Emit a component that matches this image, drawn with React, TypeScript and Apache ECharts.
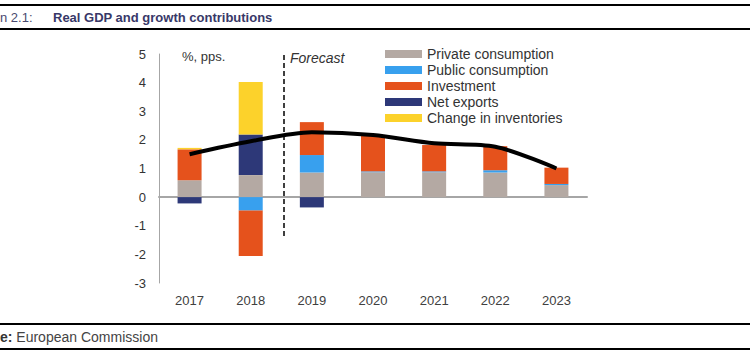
import React, { useEffect, useRef } from "react";
import * as echarts from "echarts";

const years = ["2017", "2018", "2019", "2020", "2021", "2022", "2023"];
const privateConsumption = [0.59, 0.77, 0.86, 0.87, 0.87, 0.86, 0.42];
const publicConsumption = [0.0, -0.47, 0.61, 0.03, 0.03, 0.08, 0.04];
const investment = [1.08, -1.59, 1.15, 1.24, 0.92, 0.84, 0.57];
const netExports = [-0.22, 1.42, -0.36, 0, 0, 0, 0];
const inventories = [0.05, 1.83, 0, 0, 0, 0, 0];
const realGdp = [1.5, 1.95, 2.27, 2.17, 1.88, 1.76, 1.0];
const yTicks = { min: -3, max: 5, interval: 1 };

const colors = {
  private: "#b4a9a3",
  public: "#38a0ee",
  investment: "#e5521c",
  net: "#2d3878",
  inv: "#fcd22b",
};

export default function App() {
  const ref = useRef<HTMLDivElement>(null);
  useEffect(() => {
    if (!ref.current) return;
    const chart = echarts.init(ref.current, undefined, { renderer: "svg" });
    const barSeries = (name: string, data: number[], color: string) => ({
      name,
      type: "bar",
      stack: "total",
      data,
      barWidth: 24,
      itemStyle: { color },
      emphasis: { disabled: true },
    });
    chart.setOption({
      animation: false,
      backgroundColor: "#ffffff",
      textStyle: { fontFamily: "Liberation Sans" },
      grid: { left: 159, right: 163, top: 54, bottom: 71 },
      legend: {
        orient: "vertical",
        left: 385,
        top: 47,
        padding: 0,
        itemWidth: 37,
        itemHeight: 8,
        itemGap: 2,
        icon: "rect",
        textStyle: { fontSize: 14, color: "#333", lineHeight: 14, fontFamily: "Liberation Sans" },
        data: [
          "Private consumption",
          "Public consumption",
          "Investment",
          "Net exports",
          "Change in inventories",
        ],
      },
      xAxis: {
        type: "category",
        data: years,
        axisLine: { onZero: true, lineStyle: { color: "#a6a6a6", width: 2 } },
        axisTick: { show: false },
        axisLabel: {
          color: "#404040",
          fontSize: 13,
          margin: 11,
        },
        position: "bottom",
      },
      yAxis: {
        type: "value",
        min: yTicks.min,
        max: yTicks.max,
        interval: yTicks.interval,
        axisLine: { show: true, lineStyle: { color: "#a6a6a6", width: 1 } },
        axisTick: { show: false },
        splitLine: { show: false },
        axisLabel: { color: "#333", fontSize: 13, margin: 13 },
      },
      series: [
        barSeries("Private consumption", privateConsumption, colors.private),
        barSeries("Public consumption", publicConsumption, colors.public),
        barSeries("Investment", investment, colors.investment),
        barSeries("Net exports", netExports, colors.net),
        barSeries("Change in inventories", inventories, colors.inv),
        {
          name: "Real GDP",
          type: "line",
          data: realGdp,
          smooth: 0.3,
          symbol: "none",
          z: 5,
          lineStyle: { color: "#000", width: 4 },
          emphasis: { disabled: true },
        },
      ],
      graphic: [
        { type: "line", shape: { x1: 0, y1: 5, x2: 750, y2: 5 }, style: { stroke: "#000", lineWidth: 2 } },
        { type: "line", shape: { x1: 0, y1: 29, x2: 750, y2: 29 }, style: { stroke: "#000", lineWidth: 2 } },
        { type: "line", shape: { x1: 0, y1: 324, x2: 750, y2: 324 }, style: { stroke: "#000", lineWidth: 2 } },
        { type: "line", shape: { x1: 0, y1: 349, x2: 750, y2: 349 }, style: { stroke: "#000", lineWidth: 2 } },
        {
          type: "text",
          x: 0,
          y: 17,
          style: { text: "n 2.1:", fontSize: 13, fill: "#4a4a70", verticalAlign: "middle", fontFamily: "Liberation Sans" },
        },
        {
          type: "text",
          x: 53,
          y: 17,
          style: {
            text: "Real GDP and growth contributions",
            fontSize: 13,
            fontWeight: "bold",
            fill: "#383868",
            verticalAlign: "middle",
            fontFamily: "Liberation Sans",
          },
        },
        {
          type: "text",
          x: 0,
          y: 337,
          style: {
            text: "{b|e:} European Commission",
            rich: {
              b: { fontWeight: "bold", fontSize: 14, fill: "#333", fontFamily: "Liberation Sans" },
            },
            fontSize: 14,
            fill: "#444",
            verticalAlign: "middle",
            fontFamily: "Liberation Sans",
          },
        },
        {
          type: "line",
          shape: { x1: 284, y1: 55, x2: 284, y2: 238 },
          style: { stroke: "#000", lineWidth: 1.5, lineDash: [5, 3] },
        },
        {
          type: "text",
          x: 290,
          y: 58,
          style: { text: "Forecast", fontSize: 14, fontStyle: "italic", fill: "#333", verticalAlign: "middle", fontFamily: "Liberation Sans" },
        },
        {
          type: "text",
          x: 182,
          y: 56,
          style: { text: "%, pps.", fontSize: 13, fill: "#333", verticalAlign: "middle", fontFamily: "Liberation Sans" },
        },
      ],
    });
    return () => chart.dispose();
  }, []);
  return (
    <div
      ref={ref}
      style={{ position: "fixed", left: 0, top: 0, width: 750, height: 354 }}
    />
  );
}
